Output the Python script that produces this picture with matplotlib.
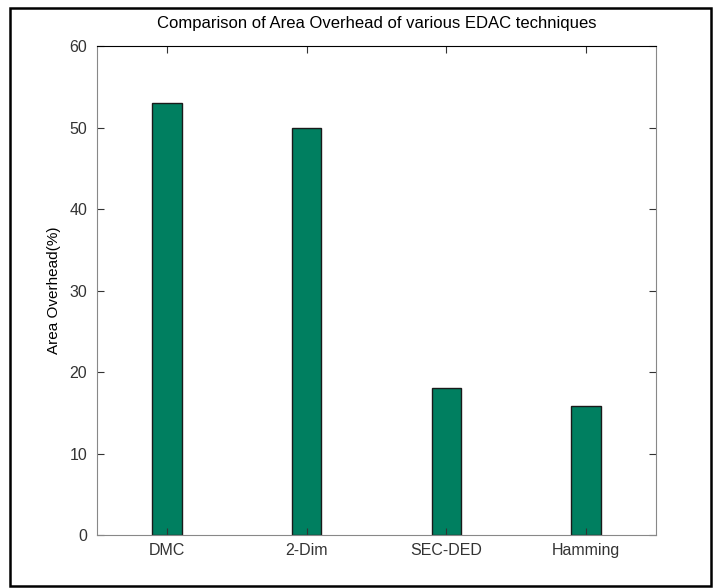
import numpy as np
import matplotlib.pyplot as plt
from matplotlib.patches import Rectangle

plt.rcParams['font.family'] = ['Liberation Sans Narrow', 'Liberation Sans', 'DejaVu Sans']

techniques = ['DMC', '2-Dim', 'SEC-DED', 'Hamming']
overhead = [53.0, 50.0, 18.0, 15.8]   # area overhead in %
yticks = [0, 10, 20, 30, 40, 50, 60]

fig = plt.figure(figsize=(7.15, 5.88), dpi=100)
ax = fig.add_axes([0.1357, 0.0901, 0.7818, 0.8316])

x = np.arange(1, len(techniques) + 1)
ax.bar(x, overhead, width=0.21, color='#007F60', edgecolor='#1a1a1a', linewidth=1.0)

ax.set_xlim(0.5, 4.5)
ax.set_ylim(0, 60)
ax.set_xticks(x)
ax.set_xticklabels(techniques, fontsize=11.5)
ax.set_yticks(yticks)
ax.set_yticklabels([str(v) for v in yticks], fontsize=11.5)
ax.tick_params(direction='in', top=True, right=True, length=5, pad=7, colors='#333333')
ax.tick_params(axis='x', pad=6)
for s in ['left', 'right', 'bottom']:
    ax.spines[s].set_color('#888888')
ax.spines['top'].set_color('black')

ax.set_title('Comparison of Area Overhead of various EDAC techniques', fontsize=12, pad=13)
ax.set_ylabel('Area Overhead(%)', fontsize=11, labelpad=6)

# outer frame around the whole picture
fig.patches.append(Rectangle((10/715, 2/588), 701/715, 578/588, transform=fig.transFigure,
                             fill=False, edgecolor='black', linewidth=1.8))

plt.savefig('out.png', dpi=100)
